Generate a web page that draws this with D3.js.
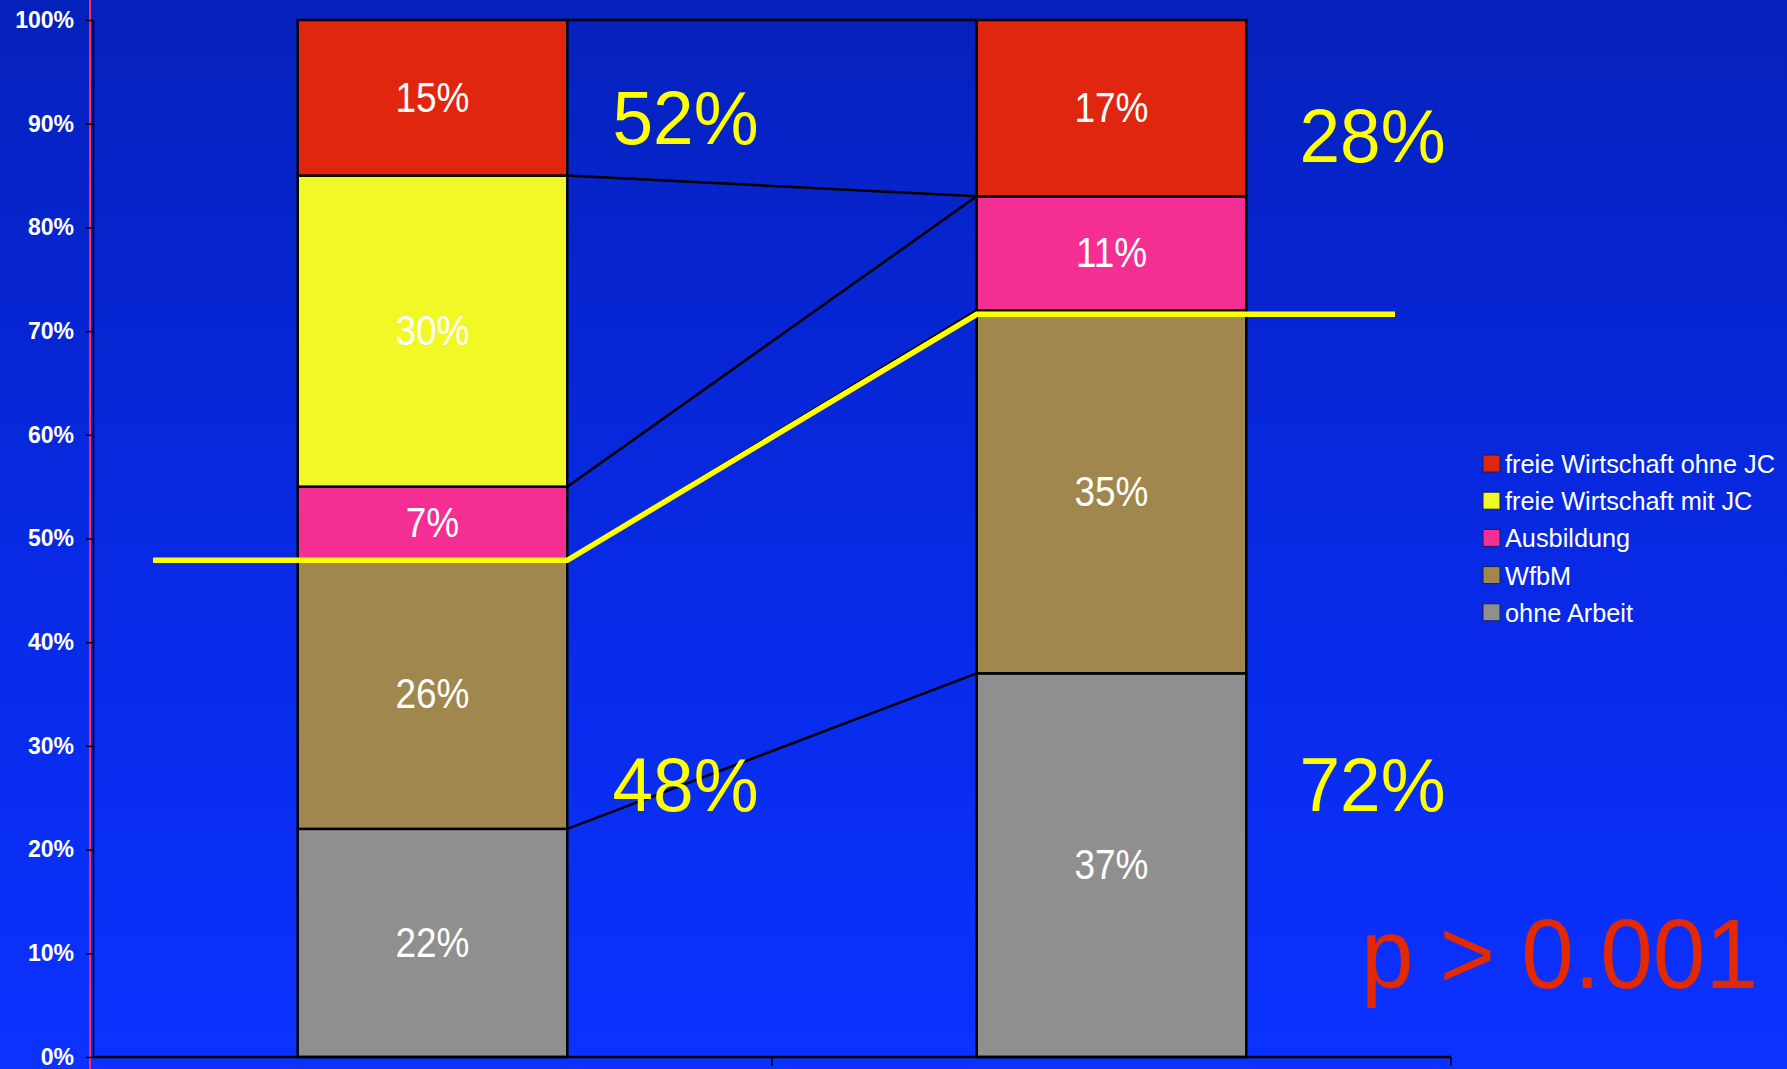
<!DOCTYPE html>
<html>
<head>
<meta charset="utf-8">
<script src="https://cdn.jsdelivr.net/npm/d3@7"></script>
<style>
  html, body { margin: 0; padding: 0; background: #0521bc; }
  svg { display: block; font-family: "Liberation Sans", Arial, sans-serif; }
</style>
</head>
<body>
<div id="chart"></div>
<script>
// data (percent of each group)
const groups = ["Gruppe 1", "Gruppe 2"];
const seriesNames = ["ohne Arbeit", "WfbM", "Ausbildung", "freie Wirtschaft mit JC", "freie Wirtschaft ohne JC"];
const seriesColors = ["#8f8f8f", "#a0874d", "#f52e94", "#f2f825", "#e0260e"];
const ohneArbeit = [22, 37];
const wfbm = [26, 35];
const ausbildung = [7, 11];
const freieMitJC = [30, 0];
const freieOhneJC = [15, 17];
const shareAbove = ["52%", "28%"];
const shareBelow = ["48%", "72%"];
const threshold = [48, 72];
const yTicks = [0, 10, 20, 30, 40, 50, 60, 70, 80, 90, 100];
const pValue = "p > 0.001";

const W = 1787, H = 1069;
const margin = { top: 20, right: 336, bottom: 12, left: 93 };

const rows = groups.map((g, i) => ({
  group: g,
  "ohne Arbeit": ohneArbeit[i],
  "WfbM": wfbm[i],
  "Ausbildung": ausbildung[i],
  "freie Wirtschaft mit JC": freieMitJC[i],
  "freie Wirtschaft ohne JC": freieOhneJC[i]
}));

const svg = d3.select("#chart").append("svg")
  .attr("width", W)
  .attr("height", H);

// background gradient
const grad = svg.append("defs").append("linearGradient")
  .attr("id", "bg").attr("x1", 0).attr("y1", 0).attr("x2", 0).attr("y2", 1);
grad.append("stop").attr("offset", "0%").attr("stop-color", "#0521bc");
grad.append("stop").attr("offset", "55%").attr("stop-color", "#082ae6");
grad.append("stop").attr("offset", "100%").attr("stop-color", "#0b32ff");
svg.append("rect").attr("width", W).attr("height", H).attr("fill", "url(#bg)");

// red slide rule on the left
svg.append("line")
  .attr("x1", 90).attr("x2", 90).attr("y1", 0).attr("y2", H)
  .attr("stroke", "#ff2d5c").attr("stroke-width", 2);

const x = d3.scaleBand().domain(groups).range([margin.left, W - margin.right]).padding(0);
const y = d3.scaleLinear().domain([0, 100]).range([H - margin.bottom, margin.top]);
const barW = x.bandwidth() * 0.397;
const barX = g => x(g) + (x.bandwidth() - barW) / 2;

const stack = d3.stack().keys(seriesNames)(rows);

// series lines between the bars
const lines = svg.append("g");
stack.forEach(layer => {
  lines.append("line")
    .attr("x1", barX(groups[0]) + barW)
    .attr("y1", y(layer[0][1]))
    .attr("x2", barX(groups[1]))
    .attr("y2", y(layer[1][1]))
    .attr("stroke", "#000")
    .attr("stroke-width", 2.5);
});

// stacked bars
const layers = svg.append("g").selectAll("g")
  .data(stack)
  .join("g")
  .attr("fill", (d, i) => seriesColors[i]);

layers.selectAll("rect")
  .data(d => d.filter(s => s[1] > s[0]))
  .join("rect")
  .attr("x", d => barX(d.data.group))
  .attr("y", d => y(d[1]))
  .attr("width", barW)
  .attr("height", d => y(d[0]) - y(d[1]))
  .attr("stroke", "#000")
  .attr("stroke-width", 2.5);

// value labels inside the segments
layers.selectAll("text")
  .data(d => d.filter(s => s[1] > s[0]))
  .join("text")
  .attr("transform", d => `translate(${barX(d.data.group) + barW / 2},${(y(d[0]) + y(d[1])) / 2 + 14}) scale(0.88,1)`)
  .attr("text-anchor", "middle")
  .attr("fill", "#fff")
  .attr("font-size", 42)
  .text(d => (d[1] - d[0]) + "%");

// yellow threshold line
const thrPts = [
  [x(groups[0]) + 60, y(threshold[0]) + 1],
  [barX(groups[0]) + barW, y(threshold[0]) + 1],
  [barX(groups[1]), y(threshold[1]) + 4],
  [x(groups[1]) + x.bandwidth() - 56, y(threshold[1]) + 4]
];
svg.append("path")
  .attr("d", d3.line()(thrPts))
  .attr("fill", "none")
  .attr("stroke", "#ffff00")
  .attr("stroke-width", 5.5);

// y axis
const yAxis = svg.append("g")
  .attr("transform", `translate(${margin.left},0)`)
  .call(d3.axisLeft(y).tickValues(yTicks).tickFormat(d => d + "%").tickSize(7).tickSizeOuter(0).tickPadding(12));
yAxis.select(".domain").attr("stroke", "#000").attr("stroke-width", 1.5);
yAxis.selectAll(".tick line").attr("stroke", "#000").attr("stroke-width", 1.5);
yAxis.selectAll(".tick text")
  .attr("fill", "#fff")
  .attr("font-size", 23)
  .attr("font-weight", "bold")
  .attr("font-family", "'Liberation Sans', Arial, sans-serif");

// x axis line with ticks at the band edges
const xAxis = svg.append("g");
xAxis.append("line")
  .attr("x1", margin.left).attr("x2", W - margin.right)
  .attr("y1", y(0)).attr("y2", y(0))
  .attr("stroke", "#000").attr("stroke-width", 2.5);
xAxis.selectAll(".xt")
  .data(groups)
  .join("line")
  .attr("class", "xt")
  .attr("x1", g => x(g) + x.bandwidth()).attr("x2", g => x(g) + x.bandwidth())
  .attr("y1", y(0)).attr("y2", y(0) + 9)
  .attr("stroke", "#000").attr("stroke-width", 1.5);

// big yellow share annotations
const big = svg.append("g")
  .attr("fill", "#ffff00")
  .attr("font-size", 76)
  .attr("text-anchor", "middle");
big.selectAll(".above")
  .data(groups)
  .join("text")
  .attr("class", "above")
  .attr("transform", (g, i) => `translate(${x(g) + x.bandwidth() / 2 + 253 + i * 8},${y(i ? 86.3 : 88)}) scale(0.96,1)`)
  .text((g, i) => shareAbove[i]);
big.selectAll(".below")
  .data(groups)
  .join("text")
  .attr("class", "below")
  .attr("transform", (g, i) => `translate(${x(g) + x.bandwidth() / 2 + 253 + i * 8},${y(23.7)}) scale(0.96,1)`)
  .text((g, i) => shareBelow[i]);

// legend (top series first)
const legend = svg.append("g").attr("transform", "translate(1483,455)");
const legendItems = seriesNames.map((n, i) => ({ name: n, color: seriesColors[i] })).reverse();
const li = legend.selectAll("g")
  .data(legendItems)
  .join("g")
  .attr("transform", (d, i) => `translate(0,${i * 37.2})`);
li.append("rect")
  .attr("width", 17).attr("height", 17)
  .attr("fill", d => d.color)
  .attr("stroke", "#102060").attr("stroke-width", 1);
li.append("text")
  .attr("x", 22).attr("y", 18)
  .attr("fill", "#fff")
  .attr("font-size", 25.3)
  .text(d => d.name);

// p value
svg.append("text")
  .attr("transform", "translate(1361,988) scale(0.965,1)")
  .attr("fill", "#e42800")
  .attr("font-size", 98)
  .text(pValue);
</script>
</body>
</html>
